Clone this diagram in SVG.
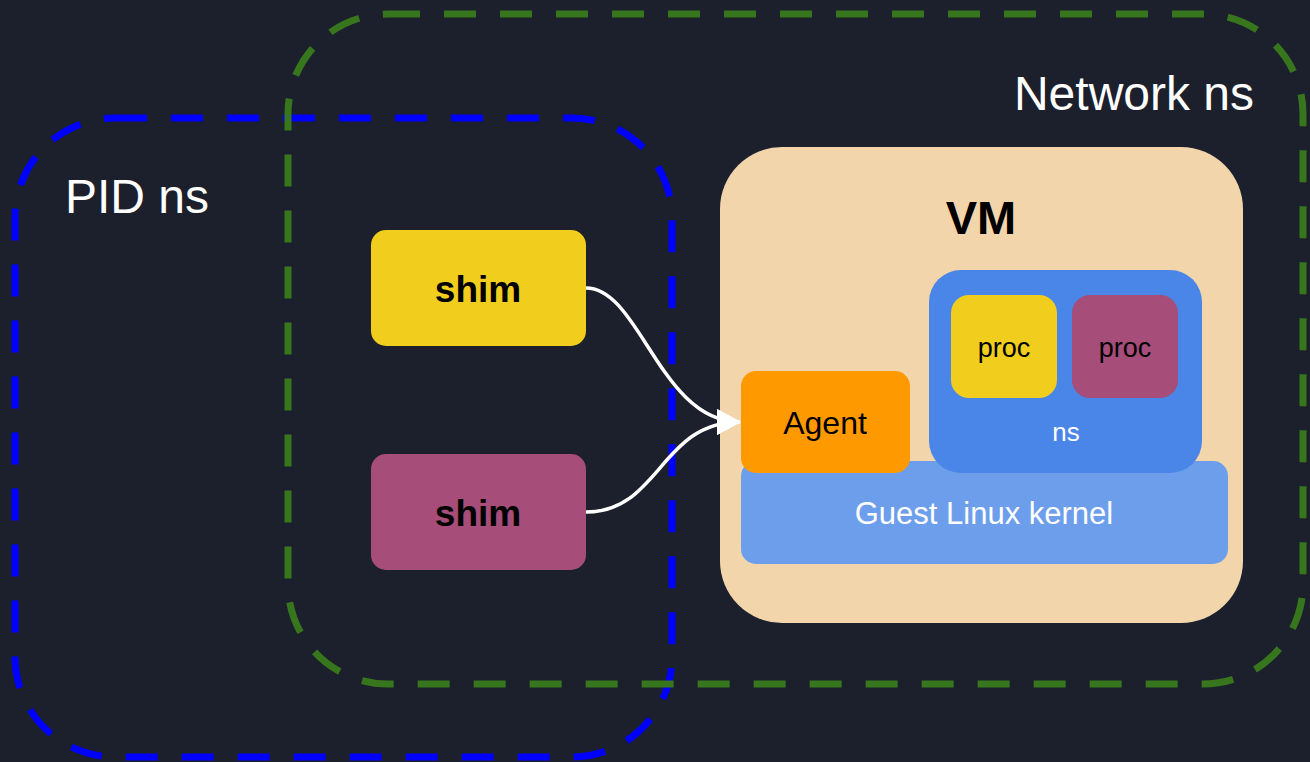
<svg xmlns="http://www.w3.org/2000/svg" width="1310" height="762" viewBox="0 0 1310 762">
<style>
.t{font-family:"Liberation Sans",Arial,sans-serif;text-anchor:middle}
.w{fill:#ffffff}
.k{fill:#000000}
.b{font-weight:bold}
.dash{fill:none;stroke-width:7;stroke-dasharray:32 24}
.conn{fill:none;stroke:#ffffff;stroke-width:3.5}
</style>
<defs>
<marker id="arrow" viewBox="0 0 24 26" refX="23" refY="13" markerWidth="24" markerHeight="26" markerUnits="userSpaceOnUse" orient="auto">
<path d="M0,0 L24,13 L0,26 Z" fill="#ffffff"/>
</marker>
</defs>
<rect width="1310" height="762" fill="#1b202c"/>
<g id="pid-ns">
<rect class="dash" x="15" y="118" width="657" height="639" rx="100" stroke="#0000ff"/>
<text class="t w" x="137" y="213" font-size="48">PID ns</text>
</g>
<g id="network-ns">
<rect class="dash" x="288" y="14" width="1015" height="670" rx="100" stroke="#38761d"/>
<text class="t w" x="1134" y="110" font-size="48">Network ns</text>
</g>
<g id="vm">
<rect x="720" y="147" width="523" height="476" rx="62" fill="#f3d5ab"/>
<text class="t k b" x="981" y="234" font-size="47">VM</text>
</g>
<g id="kernel">
<rect x="741" y="461" width="487" height="103" rx="15" fill="#6d9eeb"/>
<text class="t w" x="984" y="524" font-size="31">Guest Linux kernel</text>
</g>
<g id="ns">
<rect x="929" y="270" width="273" height="203" rx="32" fill="#4a86e8"/>
<text class="t w" x="1066" y="441" font-size="26">ns</text>
</g>
<g id="proc1">
<rect x="951" y="295" width="106" height="103" rx="18" fill="#f1cd1d"/>
<text class="t k" x="1004" y="357" font-size="27">proc</text>
</g>
<g id="proc2">
<rect x="1072" y="295" width="106" height="103" rx="18" fill="#a64d79"/>
<text class="t k" x="1125" y="357" font-size="27">proc</text>
</g>
<g id="agent">
<rect x="741" y="371" width="169" height="102" rx="15" fill="#ff9900"/>
<text class="t k" x="825" y="434" font-size="32">Agent</text>
</g>
<g id="shim1">
<rect x="371" y="230" width="215" height="116" rx="15" fill="#f1cd1d"/>
<text class="t k b" x="478" y="302" font-size="37">shim</text>
</g>
<g id="shim2">
<rect x="371" y="454" width="215" height="116" rx="15" fill="#a64d79"/>
<text class="t k b" x="478" y="526" font-size="37">shim</text>
</g>
<g id="connectors">
<path class="conn" d="M586,288 C640,288 660,422 740,422" marker-end="url(#arrow)"/>
<path class="conn" d="M586,512 C660,512 660,422 740,422" marker-end="url(#arrow)"/>
</g>
</svg>
